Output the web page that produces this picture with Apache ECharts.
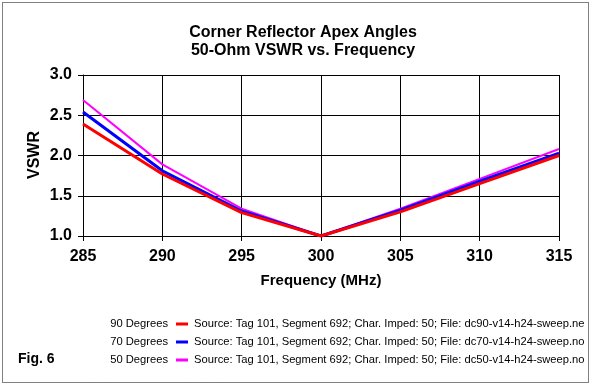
<!DOCTYPE html>
<html>
<head>
<meta charset="utf-8">
<script src="https://cdn.jsdelivr.net/npm/echarts@6/dist/echarts.min.js"></script>
<style>
html,body{margin:0;padding:0;background:#fff;}
#c{width:592px;height:386px;}
</style>
</head>
<body>
<div id="c"></div>
<script>
var freq = [285, 290, 295, 300, 305, 310, 315];
var deg90 = [2.39, 1.77, 1.29, 1.00, 1.30, 1.65, 2.00];
var deg70 = [2.54, 1.81, 1.31, 1.00, 1.32, 1.68, 2.03];
var deg50 = [2.69, 1.89, 1.34, 1.00, 1.34, 1.71, 2.08];
var seriesNames = ['90 Degrees', '70 Degrees', '50 Degrees'];
var sourceTexts = [
  'Source: Tag 101, Segment 692; Char. Imped: 50; File: dc90-v14-h24-sweep.nec',
  'Source: Tag 101, Segment 692; Char. Imped: 50; File: dc70-v14-h24-sweep.nou',
  'Source: Tag 101, Segment 692; Char. Imped: 50; File: dc50-v14-h24-sweep.nou'
];
var colors = ['#ff0000', '#0000ff', '#ff00ff'];
var widths = [3, 3, 2];
var dataSets = [deg90, deg70, deg50];

function pairs(ys){ return freq.map(function(f,i){ return [f, ys[i]]; }); }

var chart = echarts.init(document.getElementById('c'), null, {renderer:'canvas'});
var font = 'Arial, "Liberation Sans", sans-serif';

var graphics = [
  {type:'text', x:18, y:359, style:{text:'Fig. 6', font:'bold 14px ' + font, fill:'#000', verticalAlign:'middle'}},
  {type:'text', x:35, y:155, rotation:Math.PI/2, style:{text:'VSWR', font:'bold 16px ' + font, fill:'#000', align:'center', verticalAlign:'middle'}}
];
var rowY = [324, 342, 360];
for (var i=0;i<3;i++){
  graphics.push({type:'text', x:168, y:rowY[i], style:{text:seriesNames[i], font:'11.2px ' + font, fill:'#000', align:'right', verticalAlign:'middle'}});
  graphics.push({type:'line', shape:{x1:176, y1:rowY[i], x2:188, y2:rowY[i]}, style:{stroke:colors[i], lineWidth:3}});
  graphics.push({type:'text', x:194, y:rowY[i], style:{text:sourceTexts[i], font:'11.2px ' + font, fill:'#000', verticalAlign:'middle'}});
}
graphics.push({type:'rect', shape:{x:584, y:312, width:8, height:60}, style:{fill:'#fff'}, z:50, silent:true});
graphics.push({type:'rect', shape:{x:2.5, y:2.5, width:586, height:380}, style:{fill:null, stroke:'#000', lineWidth:1, lineDash:[1,1]}, z:60, silent:true});

chart.setOption({
  animation:false,
  backgroundColor:'#fff',
  title:{
    text:'Corner Reflector Apex Angles\n50-Ohm VSWR vs. Frequency',
    left:298, top:19, textAlign:'center',
    textStyle:{fontFamily:font, fontWeight:'bold', fontSize:16, lineHeight:18, color:'#000'}
  },
  grid:{left:83, right:33, top:75, bottom:150, containLabel:false},
  xAxis:{
    type:'value', min:285, max:315, interval:5,
    name:'Frequency (MHz)', nameLocation:'middle', nameGap:37,
    nameTextStyle:{fontFamily:font, fontWeight:'bold', fontSize:15, color:'#000'},
    axisLine:{lineStyle:{color:'#000', width:1}},
    axisTick:{show:true, length:5, lineStyle:{color:'#000'}},
    axisLabel:{fontFamily:font, fontWeight:'bold', fontSize:16, color:'#000', margin:13},
    splitLine:{show:true, lineStyle:{color:'#000', width:1}}
  },
  yAxis:{
    type:'value', min:1.0, max:3.0, interval:0.5,
    axisLine:{show:true, lineStyle:{color:'#000', width:1}},
    axisTick:{show:true, length:5, lineStyle:{color:'#000'}},
    axisLabel:{fontFamily:font, fontWeight:'bold', fontSize:16, color:'#000', margin:11,
      formatter:function(v){return v.toFixed(1);}},
    splitLine:{show:true, lineStyle:{color:'#000', width:1}}
  },
  series: dataSets.map(function(d,i){
    return {type:'line', name:seriesNames[i], data:pairs(d), showSymbol:false, symbol:'none',
      lineStyle:{color:colors[i], width:widths[i]}, itemStyle:{color:colors[i]}, z:10-i};
  }).reverse(),
  graphic:graphics
});
</script>
</body>
</html>
